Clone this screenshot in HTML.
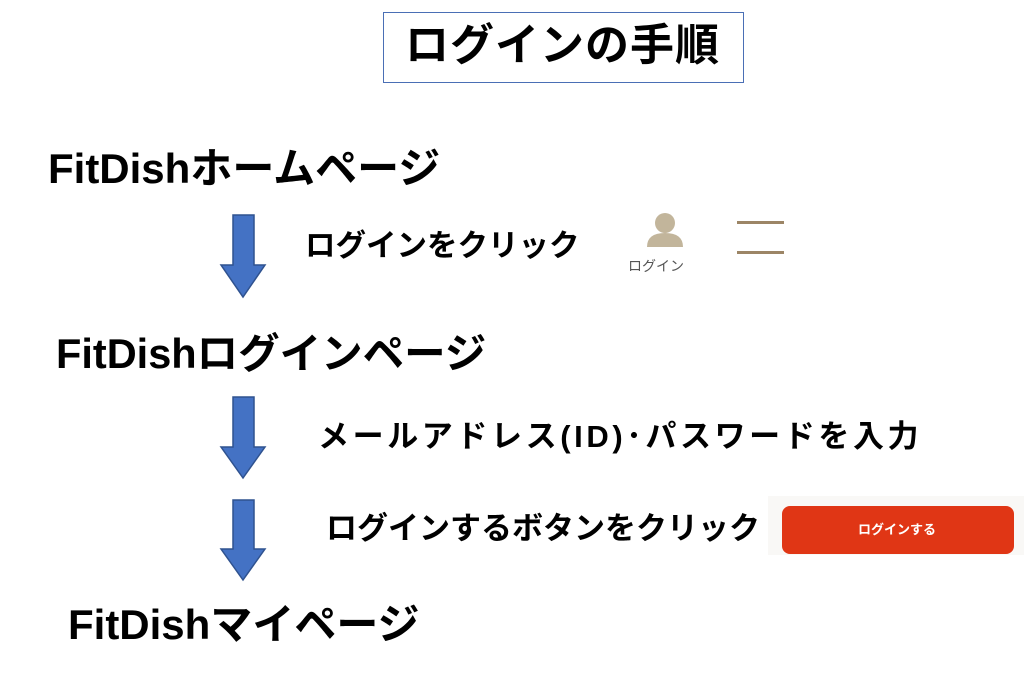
<!DOCTYPE html>
<html><head><meta charset="utf-8"><style>
body{margin:0;width:1024px;height:676px;background:#fff;position:relative;overflow:hidden;font-family:"Liberation Sans","Noto Sans CJK JP",sans-serif;font-weight:bold;color:#000}
.t{position:absolute;white-space:nowrap;line-height:1}
.big{font-size:42px}
.mid{font-size:31px}
</style></head><body>
<div style="position:absolute;left:383px;top:12px;width:361px;height:71px;border:1px solid #4a6fb5;box-sizing:border-box"></div>
<div class="t" style="left:405px;top:24px;font-size:44px;letter-spacing:1px">ログインの手順</div>
<div class="t big" style="left:48px;top:148px">FitDishホームページ</div>
<div class="t big" style="left:56px;top:333px;font-size:41.5px">FitDishログインページ</div>
<div class="t big" style="left:68px;top:604px">FitDishマイページ</div>
<div class="t mid" style="left:305px;top:231px;font-size:30.5px">ログインをクリック</div>
<div class="t mid" style="left:318px;top:421px;letter-spacing:3.6px">メールアドレス(ID)･パスワードを入力</div>
<div class="t mid" style="left:326px;top:513px">ログインするボタンをクリック</div>
<svg style="position:absolute;left:0;top:0" width="1024" height="676">
<g fill="#4472c4" stroke="#2f528f" stroke-width="1.5">
<polygon points="233,215 254,215 254,265 265,265 243,297 221,265 233,265"/>
<polygon points="233,397 254,397 254,447 265,447 243,478 221,447 233,447"/>
<polygon points="233,500 254,500 254,549 265,549 243,580 221,549 233,549"/>
</g>
<g fill="#c2b59b">
<circle cx="665" cy="223" r="10"/>
<path d="M647,247 Q647,233 665,233 Q683,233 683,247 Z"/>
</g>
<rect x="737" y="221" width="47" height="3" fill="#9c8566"/>
<rect x="737" y="251" width="47" height="3" fill="#9c8566"/>
<rect x="768" y="496" width="256" height="59" fill="#f9f8f6"/>
<rect x="782" y="506" width="232" height="48" rx="8" fill="#e03615"/>
</svg>
<div class="t" style="left:628px;top:259px;font-size:14px;font-weight:normal;color:#555">ログイン</div>
<div class="t" style="left:858px;top:523px;font-size:13px;color:#fff">ログインする</div>
</body></html>
